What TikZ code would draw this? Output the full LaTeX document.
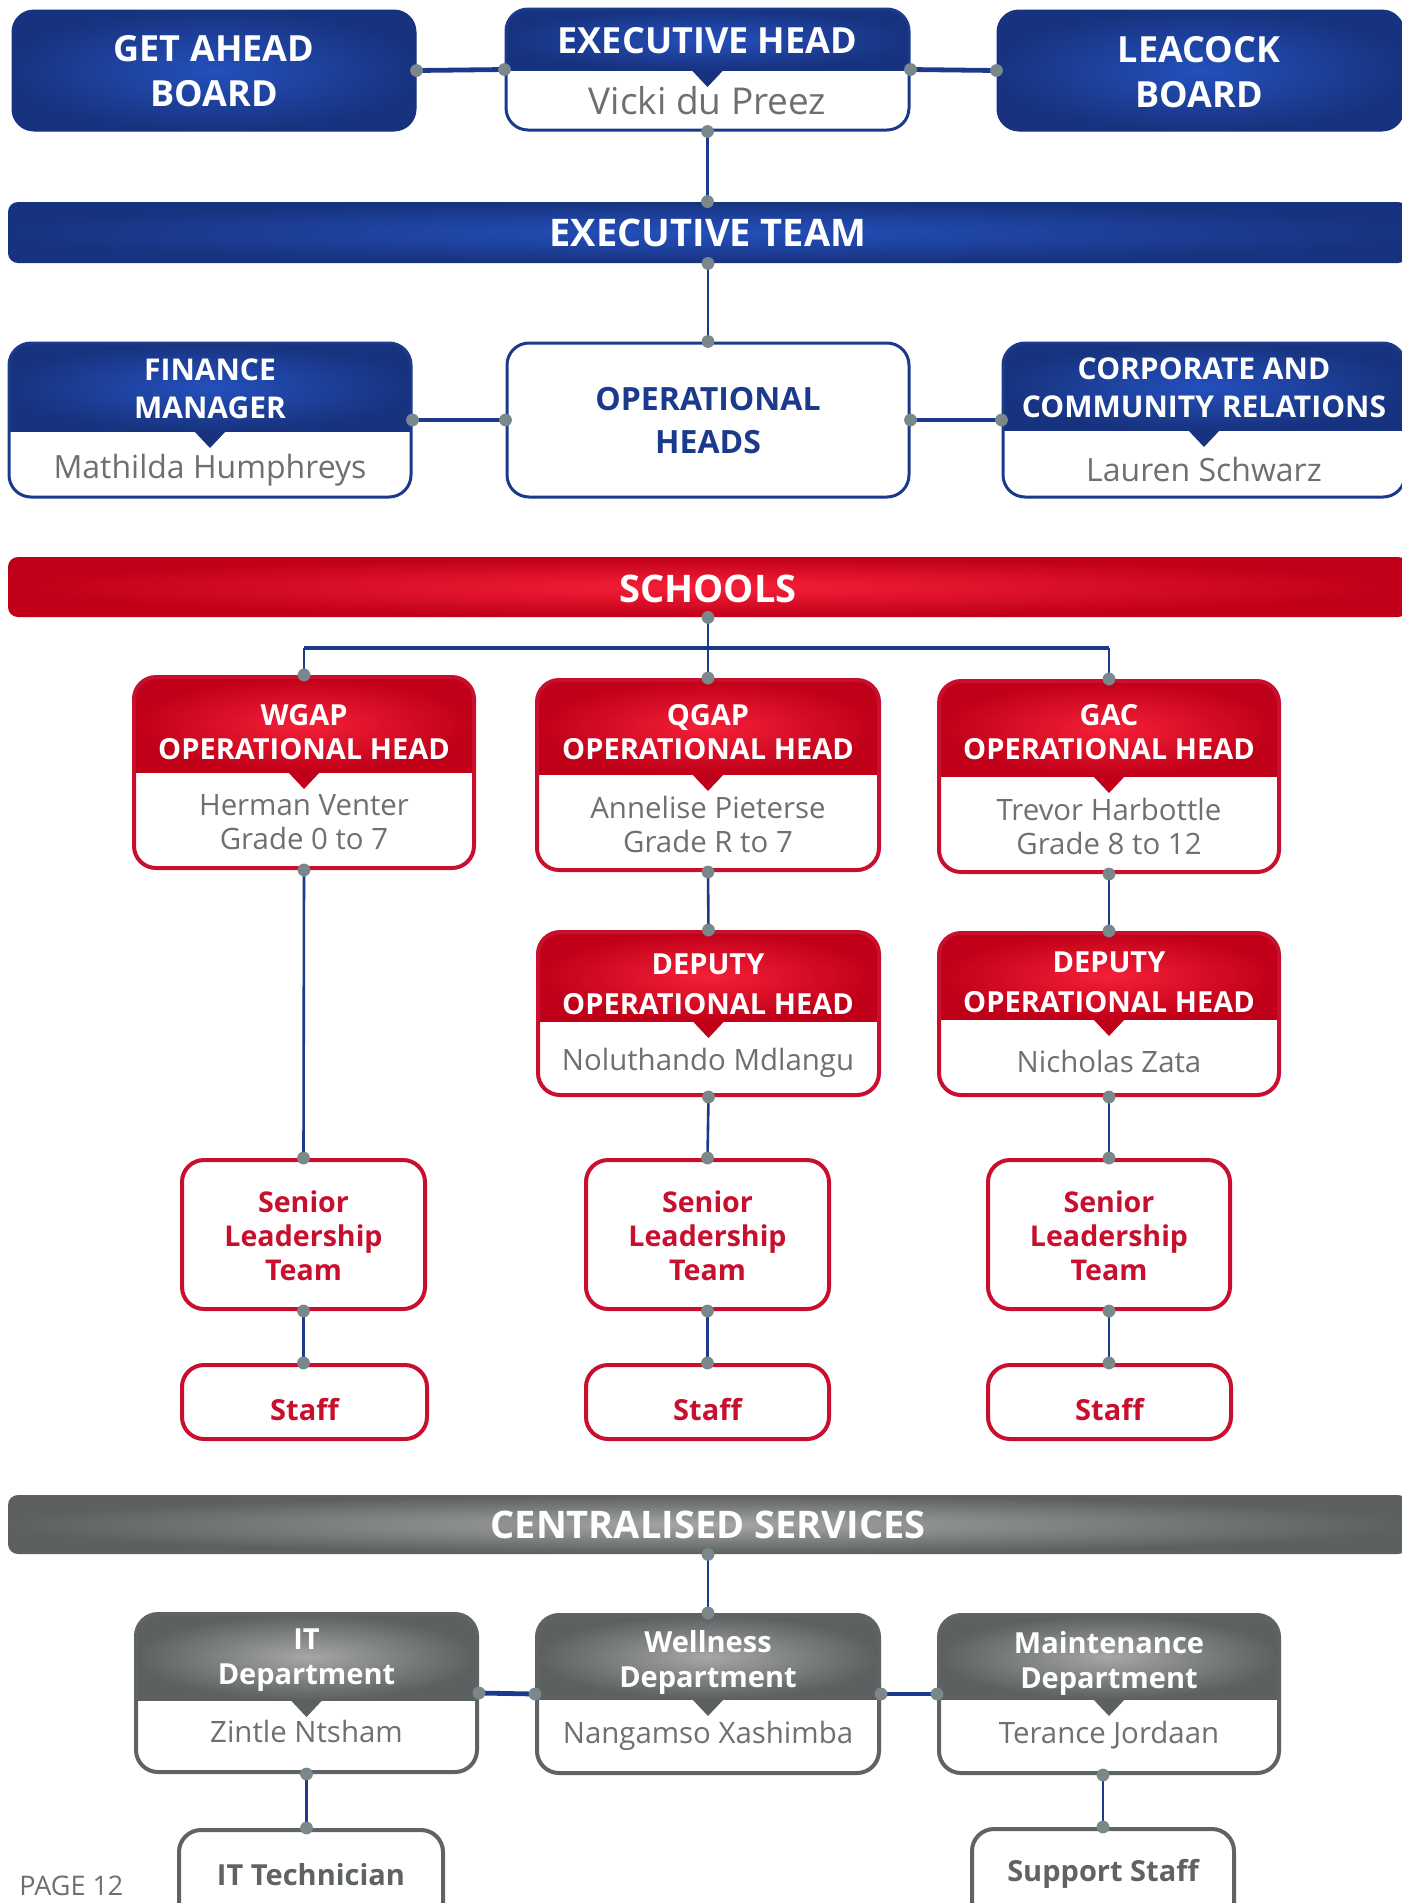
\documentclass[tikz,border=0pt]{standalone}
\usepackage{fontspec}
\setmainfont{Open Sans}
\usetikzlibrary{fit}
\definecolor{blueE}{HTML}{17337F}
\definecolor{blueC}{HTML}{2450BC}
\definecolor{blueB}{HTML}{1B3A8C}
\definecolor{redE}{HTML}{BF0018}
\definecolor{redC}{HTML}{F52038}
\definecolor{redB}{HTML}{C8102E}
\definecolor{grayE}{HTML}{5C6060}
\definecolor{grayC}{HTML}{A5A7A6}
\definecolor{grayB}{HTML}{5F6363}
\definecolor{dotC}{HTML}{7A878B}
\definecolor{lineC}{HTML}{1B3A8C}
\definecolor{nameC}{HTML}{6E7070}
\newcommand\myfs[2]{\fontsize{#1}{#2}\selectfont}
\tikzset{
 blueshade/.style={inner color=blueC, outer color=blueE},
 redshade/.style={inner color=redC, outer color=redE},
 grayshade/.style={inner color=grayC, outer color=grayE},
 blueborder/.style={draw=blueB, line width=1.5pt},
 redborder/.style={draw=redB, line width=2pt},
 grayborder/.style={draw=grayB, line width=2pt},
 conn/.style={draw=lineC, line width=1.3pt},
 connh/.style={draw=lineC, line width=2.4pt},
 wt/.style={text=white, align=center, inner sep=0pt},
 nm/.style={text=nameC, align=center, inner sep=0pt},
 boxfit/.style={inner sep=0pt, rounded corners=11pt},
}
% #1 name, #2 x1, #3 y1, #4 x2, #5 y2, #6 divider y, #7 scheme
\newcommand\mycard[7]{%
  \fill[white, rounded corners=11pt] (#2,#3) rectangle (#4,#5);
  \begin{scope}
    \clip[rounded corners=11pt] (#2,#3) rectangle (#4,#5);
    \shade[#7shade] (#2,#3) rectangle (#4,#6);
  \end{scope}
  \fill[#7E] ({(#2+#4)/2-16},#6) -- ({(#2+#4)/2+16},#6) -- ({(#2+#4)/2},{#6+17}) -- cycle;
  \node[fit={(#2,#3)(#4,#5)}, boxfit, #7border] (#1) {};
}
% #1 name, #2 y1, #3 y2, #4 scheme
\newcommand\myband[4]{%
  \node[fit={(8,#2)(1408,#3)}, inner sep=0pt, rounded corners=5pt, shade, #4shade] (#1) {};
}
\begin{document}
\begin{tikzpicture}[x=0.5pt,y=-0.5pt]
\useasboundingbox (0,0) rectangle (1402,1903);
\fill[white] (0,0) rectangle (1402,1903);
\clip (0,0) rectangle (1402,1903);

% ---------- top row
\node[fit={(12,10)(416,131)}, boxfit, shade, blueshade, draw=blueE, line width=0.5pt] (getahead) {};
\node[wt, font=\bfseries\myfs{18}{22.5}] (tgetahead) at (214,71) {GET AHEAD\\BOARD};
\mycard{exechead}{506}{9}{909}{130}{70}{blue}
\node[wt, font=\bfseries\myfs{18}{22}] (texechead) at (707.5,41) {EXECUTIVE HEAD};
\node[nm, font=\myfs{18.5}{22}] (nexechead) at (707.5,101) {Vicki du Preez};
\node[fit={(997,10)(1404,131)}, boxfit, shade, blueshade, draw=blueE, line width=0.5pt] (leacock) {};
\node[wt, font=\bfseries\myfs{18}{22.5}] (tleacock) at (1199,72) {LEACOCK\\BOARD};

\myband{execteam}{202}{263}{blue}
\node[wt, font=\bfseries\myfs{19}{22}] (texecteam) at (708,233) {EXECUTIVE TEAM};

% ---------- second row
\mycard{finance}{9}{343}{411}{497}{431}{blue}
\node[wt, font=\bfseries\myfs{15}{19}] (tfinance) at (210,389) {FINANCE\\MANAGER};
\node[nm, font=\myfs{16}{19}] (nfinance) at (210,470) {Mathilda Humphreys};
\node[fit={(507,343)(909,497)}, boxfit, blueborder, fill=white] (opheads) {};
\node[text=blueB, align=center, inner sep=0pt, font=\bfseries\myfs{16}{21.5}] (topheads) at (708,421) {OPERATIONAL\\HEADS};
\mycard{corporate}{1003}{343}{1405}{497}{430}{blue}
\node[wt, font=\bfseries\myfs{15}{19}] (tcorporate) at (1204,388) {CORPORATE AND\\COMMUNITY RELATIONS};
\node[nm, font=\myfs{16}{19}] (ncorporate) at (1204,469) {Lauren Schwarz};

% ---------- schools
\myband{schools}{557}{617}{red}
\node[wt, font=\bfseries\myfs{19}{22}] (tschools) at (708,589) {SCHOOLS};

\mycard{wgap}{134}{677}{474}{868}{772}{red}
\node[wt, font=\bfseries\myfs{14.5}{17}] (twgap) at (304,732) {WGAP\\OPERATIONAL HEAD};
\node[nm, font=\myfs{14.7}{17}] (nwgap) at (304,822) {Herman Venter\\Grade 0 to 7};
\mycard{qgap}{537}{680}{879}{870}{774}{red}
\node[wt, font=\bfseries\myfs{14.5}{17}] (tqgap) at (708,732) {QGAP\\OPERATIONAL HEAD};
\node[nm, font=\myfs{14.7}{17}] (nqgap) at (708,824) {Annelise Pieterse\\Grade R to 7};
\mycard{gac}{939}{681}{1279}{872}{776}{red}
\node[wt, font=\bfseries\myfs{14.5}{17}] (tgac) at (1109,732) {GAC\\OPERATIONAL HEAD};
\node[nm, font=\myfs{14.7}{17}] (ngac) at (1109,826) {Trevor Harbottle\\Grade 8 to 12};

\mycard{qdep}{538}{932}{879}{1095}{1021}{red}
\node[wt, font=\bfseries\myfs{14.5}{20}] (tqdep) at (708,984) {DEPUTY\\OPERATIONAL HEAD};
\node[nm, font=\myfs{14.7}{17}] (nqdep) at (708,1063) {Noluthando Mdlangu};
\mycard{gdep}{939}{933}{1279}{1095}{1019}{red}
\node[wt, font=\bfseries\myfs{14.5}{20}] (tgdep) at (1109,982) {DEPUTY\\OPERATIONAL HEAD};
\node[nm, font=\myfs{14.7}{17}] (ngdep) at (1109,1061) {Nicholas Zata};

\foreach \nm/\xa/\xb in {wslt/182/425, qslt/586/829, gslt/988/1230}{
  \node[fit={(\xa,1160)(\xb,1309)}, boxfit, redborder, fill=white] (\nm) {};
  \node[text=redB, align=center, inner sep=0pt, font=\bfseries\myfs{14.3}{17}] (t\nm) at ({(\xa+\xb)/2},1236) {Senior\\Leadership\\Team};
}
\foreach \nm/\xa/\xb in {wstaff/182/427, qstaff/586/829, gstaff/988/1231}{
  \node[fit={(\xa,1365)(\xb,1439)}, boxfit, redborder, fill=white] (\nm) {};
  \node[text=redB, inner sep=0pt, font=\bfseries\myfs{14.5}{17}] (t\nm) at ({(\xa+\xb)/2},1410) {Staff};
}

% ---------- centralised services
\myband{centsvc}{1495}{1554}{gray}
\node[wt, font=\bfseries\myfs{19}{22}] (tcentsvc) at (708,1525) {CENTRALISED SERVICES};

\mycard{it}{136}{1614}{477}{1772}{1700}{gray}
\node[wt, font=\bfseries\myfs{14.5}{17.5}] (tit) at (306.5,1660) {IT\\Department};
\node[nm, font=\myfs{14.7}{17}] (nit) at (306.5,1731) {Zintle Ntsham};
\mycard{well}{537}{1615}{879}{1773}{1699}{gray}
\node[wt, font=\bfseries\myfs{14.5}{17.5}] (twell) at (708,1662) {Wellness\\Department};
\node[nm, font=\myfs{14.7}{17}] (nwell) at (708,1736) {Nangamso Xashimba};
\mycard{maint}{939}{1615}{1279}{1773}{1699}{gray}
\node[wt, font=\bfseries\myfs{14.5}{17.5}] (tmaint) at (1109,1663) {Maintenance\\Department};
\node[nm, font=\myfs{14.7}{17}] (nmaint) at (1109,1735) {Terance Jordaan};

\node[fit={(179,1830)(443,1925)}, boxfit, grayborder, fill=white] (ittech) {};
\node[text=grayB, inner sep=0pt, font=\bfseries\myfs{14.5}{17}] (tittech) at (311,1875) {IT Technician};
\node[fit={(972,1829)(1234,1925)}, boxfit, grayborder, fill=white] (supp) {};
\node[text=grayB, inner sep=0pt, font=\bfseries\myfs{14.5}{17}] (tsupp) at (1103,1874) {Support Staff};

\node[text=nameC, anchor=west, inner sep=0pt, font=\myfs{13.5}{15}] (page) at (19,1886) {PAGE 12};

% ---------- connectors
\draw[connh] (getahead.east) -- (exechead.west);
\draw[connh] (exechead.east) -- (leacock.west);
\draw[conn] (exechead.south) -- (execteam.north -| exechead.south);
\draw[conn] (execteam.south) -- (opheads.north);
\draw[connh] (finance.east) -- (opheads.west);
\draw[connh] (opheads.east) -- (corporate.west);

\coordinate (tj) at (708,648);
\draw[conn] (schools.south) -- (tj);
\draw[line width=2pt, draw=lineC] (tj -| wgap.north) -- (tj -| gac.north);
\draw[conn] (wgap.north) -- (tj -| wgap.north);
\draw[conn] (qgap.north) -- (tj -| qgap.north);
\draw[conn] (gac.north) -- (tj -| gac.north);

\draw[conn] (wgap.south) -- (wslt.north);
\draw[conn] (qgap.south) -- (qdep.north);
\draw[conn] (gac.south) -- (gdep.north);
\draw[conn] (qdep.south) -- (qslt.north);
\draw[conn] (gdep.south) -- (gslt.north);
\draw[conn] (wslt.south) -- (wstaff.north -| wslt.south);
\draw[conn] (qslt.south) -- (qstaff.north);
\draw[conn] (gslt.south) -- (gstaff.north -| gslt.south);

\draw[conn] (centsvc.south) -- (well.north);
\draw[connh] (it.east) -- (well.west);
\draw[connh] (well.east) -- (maint.west);
\draw[conn] (it.south) -- (ittech.north -| it.south);
\draw[conn] (supp.north |- maint.south) -- (supp.north);

% ---------- dots
\foreach \p in {getahead.east, exechead.west, exechead.east, leacock.west,
  exechead.south, execteam.north -| exechead.south, execteam.south, opheads.north,
  finance.east, opheads.west, opheads.east, corporate.west,
  schools.south, wgap.north, qgap.north, gac.north,
  wgap.south, wslt.north, qgap.south, qdep.north, gac.south, gdep.north,
  qdep.south, qslt.north, gdep.south, gslt.north,
  wslt.south, wstaff.north -| wslt.south, qslt.south, qstaff.north, gslt.south, gstaff.north -| gslt.south,
  centsvc.south, well.north, it.east, well.west, well.east, maint.west,
  it.south, ittech.north -| it.south, supp.north |- maint.south, supp.north}
  \fill[dotC] (\p) circle[radius=3.2pt];
\end{tikzpicture}
\end{document}
